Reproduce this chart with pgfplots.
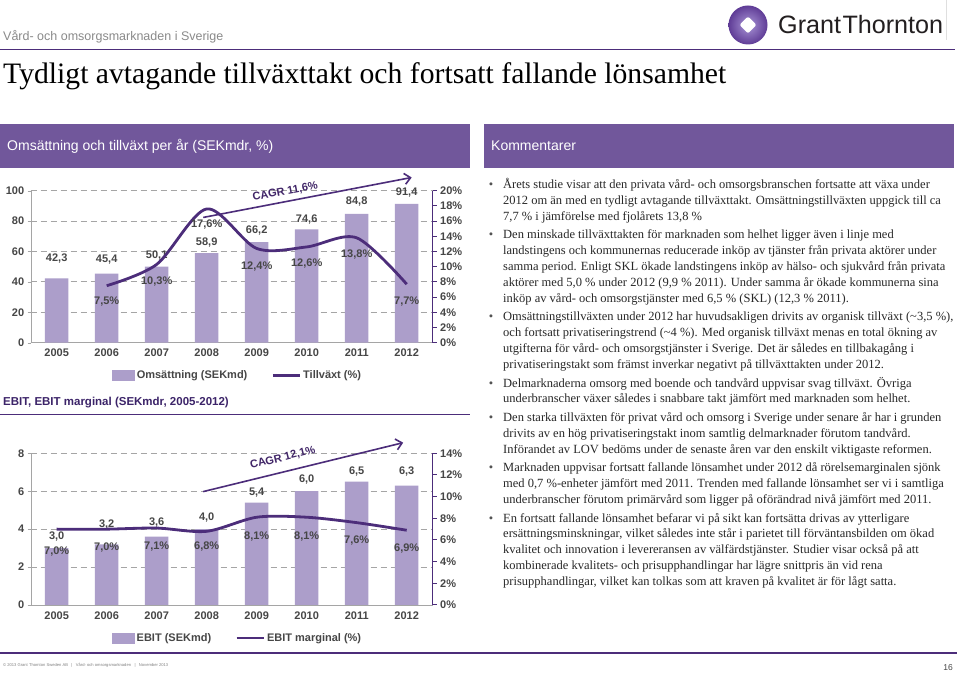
\documentclass[border=0pt]{standalone}
\usepackage{fontspec}
\setmainfont{Liberation Sans}
\newfontfamily\serif{Liberation Serif}
\usepackage{graphicx}
\usepackage{pgfplots}
\pgfplotsset{compat=1.18}
\usepackage{pgfplotstable}
\usetikzlibrary{arrows.meta}

\definecolor{barcol}{RGB}{172,158,202}
\definecolor{linecol}{RGB}{76,45,122}
\definecolor{hdr}{RGB}{113,87,155}
\definecolor{tgray}{RGB}{70,70,70}
\definecolor{ggray}{RGB}{165,165,165}
\definecolor{ctext}{RGB}{40,40,40}
\definecolor{secpurple}{RGB}{60,36,105}

\pgfplotstableread{
x y dy
0 42.3 20
1 45.4 13.7
2 50.1 11.5
3 58.9 11
4 66.2 12
5 74.6 10
6 84.8 12
7 91.4 11
}\omsdata

\pgfplotstableread{
x y dy
1 7.5 -16
2 10.3 -17
3 17.6 -16
4 12.4 -18
5 12.6 -17
6 13.8 -17
7 7.7 -17
}\tilldata

\pgfplotstableread{
x y dy
0 3.0 12
1 3.2 20
2 3.6 14
3 4.0 11.5
4 5.4 10
5 6.0 12
6 6.5 10
7 6.3 14
}\ebitdata

\pgfplotstableread{
x y dy
0 7.0 -22
1 7.0 -18
2 7.1 -18.6
3 6.8 -15
4 8.1 -19
5 8.1 -19
6 7.6 -17.4
7 6.9 -18
}\margdata

\newcommand{\lblfont}{\bfseries\fontsize{11}{12.5}\selectfont}
\newcommand{\cfont}{\serif\fontsize{12.5}{14}\selectfont}

\pgfplotsset{
  chartbase/.style={scale only axis, width=402pt, xmin=-0.52, xmax=7.52, clip=false,
    tick align=outside,
    ticklabel style={font=\lblfont, text=tgray},
    /pgf/number format/assume math mode=true},
  leftax/.style={chartbase, axis y line*=left, axis x line*=bottom,
    xtick={0,...,7}, xticklabels={2005,2006,2007,2008,2009,2010,2011,2012},
    xtick style={draw=none},
    ymajorgrids, grid style={ggray, line width=0.9pt, dash pattern=on 6pt off 4pt},
    y axis line style={ggray}, x axis line style={ggray, line width=0.8pt},
    ytick style={ggray}, major tick length=3pt},
  rightax/.style={chartbase, axis y line*=right, axis x line=none,
    y axis line style={linecol, line width=1.2pt},
    ytick style={linecol, line width=1pt}, major tick length=4pt,
    yticklabel={\pgfmathprintnumber{\tick}\%},
    legend style={at={(0.515,0)}, anchor=center, yshift=-33pt, legend columns=2,
      draw=none, fill=none, font=\lblfont, text=tgray,
      /tikz/every even column/.append style={column sep=22pt}}},
  barplot/.style={ybar, bar width=23.5pt, fill=barcol, draw=none,
    point meta=y,
    nodes near coords={\pgfmathprintnumber[fixed,fixed zerofill,precision=1,use comma]{\pgfplotspointmeta}},
    visualization depends on={\thisrow{dy}\as\mydy},
    every node near coord/.append style={anchor=center, yshift=\mydy pt, font=\lblfont, text=tgray}},
  lineplot/.style={linecol, line width=2.8pt, smooth, no markers,
    point meta=y,
    nodes near coords={\pgfmathprintnumber[fixed,fixed zerofill,precision=1,use comma]{\pgfplotspointmeta}\%},
    visualization depends on={\thisrow{dy}\as\mydy},
    every node near coord/.append style={anchor=center, yshift=\mydy pt, font=\lblfont, text=tgray},
    legend image code/.code={\draw[linecol, line width=2.8pt] (0pt,0pt) -- (27pt,0pt);}},
  barlegend/.style={legend image code/.code={\fill[barcol] (0pt,-5pt) rectangle (22pt,5pt);}}
}

\newcommand{\cl}[2]{\node[anchor=base west, inner sep=0pt, font=\cfont, text=ctext] at (503pt,#1pt) {#2};}
\newcommand{\bl}[1]{\node[anchor=base, inner sep=0pt, font=\cfont, text=ctext!80] at (491pt,#1pt) {\textbullet};}

\begin{document}
\begin{tikzpicture}[x=1pt,y=1pt]
\path[use as bounding box, fill=white] (0,0) rectangle (959,680);

% ---------- header ----------
\node[anchor=west, inner sep=0pt, font=\fontsize{12.5}{14}\selectfont, text={rgb,255:red,138;green,138;blue,138}] at (3,643) {Vård- och omsorgsmarknaden i Sverige};
\draw[linecol, line width=1.3pt] (0,630.7) -- (955,630.7);
\node[anchor=west, inner sep=0pt] at (3,603.3) {\resizebox{723pt}{!}{\serif\fontsize{27}{30}\selectfont Tydligt avtagande tillväxttakt och fortsatt fallande lönsamhet}};

% logo
\shade[inner color={rgb,255:red,170;green,150;blue,215}, outer color={rgb,255:red,95;green,60;blue,150}] (748,655) circle (19.5);
\fill[white, rounded corners=2pt] (748,646.5) -- (756.5,655) -- (748,663.5) -- (739.5,655) -- cycle;
\node[anchor=west, inner sep=0pt, text={rgb,255:red,35;green,31;blue,32}] at (778,655) {\resizebox{165pt}{!}{\fontsize{26}{30}\selectfont Grant\kern1.5pt Thornton}};
\draw[gray!25, line width=0.8pt] (946,680) -- (946,640);

% purple section bars
\fill[hdr] (0,512) rectangle (470,556);
\node[anchor=west, inner sep=0pt, text=white, font=\fontsize{14}{16}\selectfont] at (7,534) {Omsättning och tillväxt per år (SEKmdr, \%)};
\fill[hdr] (484,512) rectangle (954,556);
\node[anchor=west, inner sep=0pt, text=white, font=\fontsize{14}{16}\selectfont] at (491,534) {Kommentarer};

% EBIT section header
\node[anchor=west, inner sep=0pt, text=secpurple, font=\bfseries\fontsize{11.5}{13}\selectfont] at (3,277) {EBIT, EBIT marginal (SEKmdr, 2005-2012)};
\draw[linecol, line width=1pt] (0,265) -- (470,265);

% footer
\draw[linecol, line width=1.5pt] (0,27) -- (957,27);
\node[anchor=west, inner sep=0pt, text=gray] at (3,15) {\resizebox{165pt}{!}{\fontsize{8}{9}\selectfont © 2013 Grant Thornton Sweden AB \ \ | \ \ Vård- och omsorgsmarknaden \ \ | \ \ November 2013}};
\node[anchor=east, inner sep=0pt, text=tgray, font=\fontsize{8.5}{10}\selectfont] at (953,12) {16};

% ---------- top chart ----------
\begin{axis}[leftax, at={(30.7pt,337.3pt)}, anchor=south west, height=152pt,
  ymin=0, ymax=100, ytick={0,20,...,100}]
\addplot[barplot] table[x=x,y=y] {\omsdata};
\draw[linecol, line width=1.6pt, -{Straight Barb[length=6pt,width=11pt]}] (axis cs:2.93,82.4) -- (axis cs:7.1,108.7);
\node[rotate=10.85, font=\lblfont, text=linecol!85!black] at (axis cs:4.57,99.3) {CAGR 11,6\%};
\end{axis}
\begin{axis}[rightax, at={(30.7pt,337.3pt)}, anchor=south west, height=152pt,
  ymin=0, ymax=20, ytick={0,2,...,20}]
\addlegendimage{barlegend}
\addlegendentry{Omsättning (SEKmd)}
\addplot[lineplot] table[x=x,y=y] {\tilldata};
\addlegendentry{Tillväxt (\%)}
\end{axis}

% ---------- bottom chart ----------
\begin{axis}[leftax, at={(30.7pt,75pt)}, anchor=south west, height=151.7pt,
  ymin=0, ymax=8, ytick={0,2,...,8}]
\addplot[barplot] table[x=x,y=y] {\ebitdata};
\draw[linecol, line width=1.6pt, -{Straight Barb[length=6pt,width=11pt]}] (axis cs:2.93,5.98) -- (axis cs:6.93,8.56);
\node[rotate=13.8, font=\lblfont, text=linecol!85!black] at (axis cs:4.52,7.75) {CAGR 12,1\%};
\end{axis}
\begin{axis}[rightax, at={(30.7pt,75pt)}, anchor=south west, height=151.7pt,
  ymin=0, ymax=14, ytick={0,2,...,14}]
\addlegendimage{barlegend}
\addlegendentry{EBIT (SEKmd)}
\addplot[lineplot] table[x=x,y=y] {\margdata};
\addlegendentry{EBIT marginal (\%)}
\end{axis}

% ---------- comments ----------
\bl{491.5}
\cl{491.5}{Årets studie visar att den privata vård- och omsorgsbranschen fortsatte att växa under}
\cl{475.6}{2012 om än med en tydligt avtagande tillväxttakt. Omsättningstillväxten uppgick till ca}
\cl{459.7}{7,7 \% i jämförelse med fjolårets 13,8 \%}
\bl{441.2}
\cl{441.2}{Den minskade tillväxttakten för marknaden som helhet ligger även i linje med}
\cl{425.3}{landstingens och kommunernas reducerade inköp av tjänster från privata aktörer under}
\cl{409.4}{samma period. Enligt SKL ökade landstingens inköp av hälso- och sjukvård från privata}
\cl{393.5}{aktörer med 5,0 \% under 2012 (9,9 \% 2011). Under samma år ökade kommunerna sina}
\cl{377.6}{inköp av vård- och omsorgstjänster med 6,5 \% (SKL) (12,3 \% 2011).}
\bl{359.1}
\cl{359.1}{Omsättningstillväxten under 2012 har huvudsakligen drivits av organisk tillväxt (\textasciitilde3,5 \%),}
\cl{343.2}{och fortsatt privatiseringstrend (\textasciitilde4 \%). Med organisk tillväxt menas en total ökning av}
\cl{327.3}{utgifterna för vård- och omsorgstjänster i Sverige. Det är således en tillbakagång i}
\cl{311.4}{privatiseringstakt som främst inverkar negativt på tillväxttakten under 2012.}
\bl{292.9}
\cl{292.9}{Delmarknaderna omsorg med boende och tandvård uppvisar svag tillväxt. Övriga}
\cl{277.0}{underbranscher växer således i snabbare takt jämfört med marknaden som helhet.}
\bl{258.5}
\cl{258.5}{Den starka tillväxten för privat vård och omsorg i Sverige under senare år har i grunden}
\cl{242.6}{drivits av en hög privatiseringstakt inom samtlig delmarknader förutom tandvård.}
\cl{226.7}{Införandet av LOV bedöms under de senaste åren var den enskilt viktigaste reformen.}
\bl{208.2}
\cl{208.2}{Marknaden uppvisar fortsatt fallande lönsamhet under 2012 då rörelsemarginalen sjönk}
\cl{192.3}{med 0,7 \%-enheter jämfört med 2011. Trenden med fallande lönsamhet ser vi i samtliga}
\cl{176.4}{underbranscher förutom primärvård som ligger på oförändrad nivå jämfört med 2011.}
\bl{157.9}
\cl{157.9}{En fortsatt fallande lönsamhet befarar vi på sikt kan fortsätta drivas av ytterligare}
\cl{142.0}{ersättningsminskningar, vilket således inte står i parietet till förväntansbilden om ökad}
\cl{126.1}{kvalitet och innovation i levereransen av välfärdstjänster. Studier visar också på att}
\cl{110.2}{kombinerade kvalitets- och prisupphandlingar har lägre snittpris än vid rena}
\cl{94.3}{prisupphandlingar, vilket kan tolkas som att kraven på kvalitet är för lågt satta.}
\end{tikzpicture}
\end{document}
